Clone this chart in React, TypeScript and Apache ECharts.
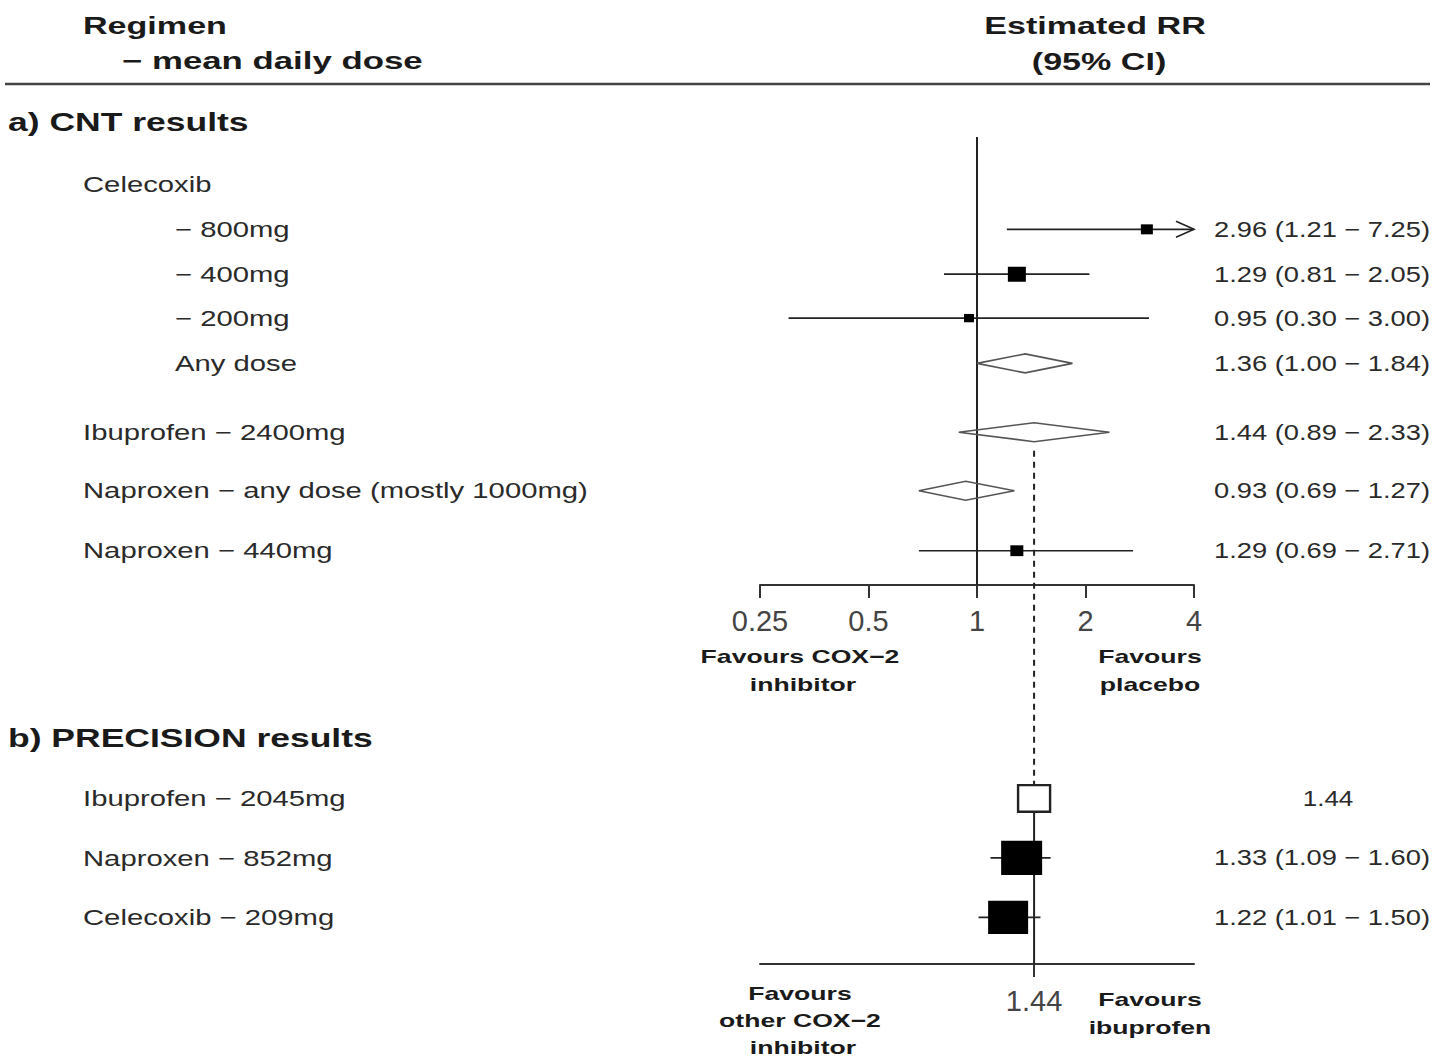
import React, { useEffect, useRef } from "react";
import * as echarts from "echarts";

// ---------- data ----------
const cntHeader = "Celecoxib";
const cntLabels = [
  "− 800mg",
  "− 400mg",
  "− 200mg",
  "Any dose",
  "Ibuprofen − 2400mg",
  "Naproxen − any dose (mostly 1000mg)",
  "Naproxen − 440mg",
];
const cntIndent = [2, 2, 2, 2, 1, 1, 1];
const cntEst = [2.96, 1.29, 0.95, 1.36, 1.44, 0.93, 1.29];
const cntLow = [1.21, 0.81, 0.3, 1.0, 0.89, 0.69, 0.69];
const cntHigh = [7.25, 2.05, 3.0, 1.84, 2.33, 1.27, 2.71];
const cntPooled = [false, false, false, true, true, true, false];
const cntWeight = [12, 18, 10, 0, 0, 0, 13];

const precLabels = ["Ibuprofen − 2045mg", "Naproxen − 852mg", "Celecoxib − 209mg"];
const precEst = [1.44, 1.33, 1.22];
const precLow = [null, 1.09, 1.01];
const precHigh = [null, 1.6, 1.5];
const precIsReference = [true, false, false];
const precWeight = [32, 41, 40];

const referenceRR = 1.44;
const X_MIN = 0.25;
const X_MAX = 4;

// ---------- layout (row positions in row units) ----------
const CNT_HEADER_POS = 1.06;
const cntRowPos = [2.08, 3.09, 4.08, 5.1, 6.65, 7.97, 9.32];
const precRowPos = [14.9, 16.24, 17.58];
const TOP_AXIS_POS = 10.09;
const DASH_START_POS = 7.07;
const Y_MAX = 18.63;

const GRID_LEFT = 760;
const GRID_RIGHT = 250;
const GRID_TOP = 137;
const GRID_HEIGHT = 827;

const FONT = "'Liberation Sans', Arial, Helvetica, sans-serif";
const TXT = "#2a2a2a";
const BOLD_SX = 1.42;
const LABEL_SX = 1.33;
const VALUE_SX = 1.24;

const fmt = (v: number) => v.toFixed(2);

export default function App() {
  const ref = useRef<HTMLDivElement>(null);

  useEffect(() => {
    if (!ref.current) return;
    const chart = echarts.init(ref.current, undefined, { renderer: "svg" });

    const forestData: any[] = [];
    cntEst.forEach((e, i) => {
      forestData.push([e, cntLow[i], cntHigh[i], cntRowPos[i], cntWeight[i], cntPooled[i] ? 1 : 0]);
    });
    precEst.forEach((e, i) => {
      forestData.push([
        e,
        precLow[i] ?? e,
        precHigh[i] ?? e,
        precRowPos[i],
        precWeight[i],
        precIsReference[i] ? 2 : 0,
      ]);
    });

    const axisCommon = {
      type: "log" as const,
      logBase: 2,
      min: X_MIN,
      max: X_MAX,
      gridIndex: 0,
      position: "bottom" as const,
      splitLine: { show: false },
      axisLine: { show: true, onZero: false, lineStyle: { color: "#333", width: 2 } },
      axisTick: { show: true, length: 13, lineStyle: { color: "#333", width: 2 } },
    };

    const topOffset = -(GRID_HEIGHT * (Y_MAX - TOP_AXIS_POS)) / Y_MAX;

    chart.setOption({
      animation: false,
      backgroundColor: "#fff",
      grid: { left: GRID_LEFT, right: GRID_RIGHT, top: GRID_TOP, height: GRID_HEIGHT, containLabel: false },
      xAxis: [
        {
          ...axisCommon,
          axisTick: { ...axisCommon.axisTick, customValues: [referenceRR] },
          axisLabel: {
            customValues: [referenceRR],
            formatter: (v: any) => String(+Number(v).toFixed(2)),
            fontSize: 29,
            color: "#444",
            margin: 22,
            fontFamily: FONT,
          },
        },
        {
          ...axisCommon,
          offset: topOffset,
          axisLabel: {
            formatter: (v: any) => String(+Number(v).toFixed(2)),
            fontSize: 29,
            color: "#444",
            margin: 22,
            fontFamily: FONT,
          },
        },
      ],
      yAxis: { type: "value", inverse: true, min: 0, max: Y_MAX, show: false, gridIndex: 0 },
      series: [
        {
          type: "line",
          data: [
            [1, 0],
            [1, TOP_AXIS_POS],
          ],
          symbol: "none",
          lineStyle: { color: "#222", width: 2 },
          z: 1,
          silent: true,
        },
        {
          type: "line",
          data: [
            [referenceRR, DASH_START_POS],
            [referenceRR, precRowPos[0]],
          ],
          symbol: "none",
          lineStyle: { color: "#222", width: 2, type: [6, 5] },
          z: 1,
          silent: true,
        },
        {
          type: "line",
          data: [
            [referenceRR, precRowPos[0]],
            [referenceRR, Y_MAX],
          ],
          symbol: "none",
          lineStyle: { color: "#222", width: 2 },
          z: 1,
          silent: true,
        },
        {
          type: "custom",
          z: 5,
          clip: false,
          encode: { x: [0, 1, 2], y: 3 },
          data: forestData,
          renderItem: (params: any, api: any) => {
            const est = api.value(0);
            const lo = api.value(1);
            const hi = api.value(2);
            const row = api.value(3);
            const w = api.value(4);
            const kind = api.value(5);
            const c = api.coord([est, row]);
            const children: any[] = [];
            if (kind === 1) {
              const l = api.coord([lo, row]);
              const r = api.coord([hi, row]);
              const h = 9.5;
              children.push({
                type: "polygon",
                shape: {
                  points: [
                    [l[0], c[1]],
                    [c[0], c[1] - h],
                    [r[0], c[1]],
                    [c[0], c[1] + h],
                  ],
                },
                style: { fill: "none", stroke: "#555", lineWidth: 1.6 },
              });
            } else {
              if (kind !== 2) {
                const l = api.coord([Math.max(lo, X_MIN), row]);
                const r = api.coord([Math.min(hi, X_MAX), row]);
                children.push({
                  type: "line",
                  shape: { x1: l[0], y1: c[1], x2: r[0], y2: c[1] },
                  style: { stroke: "#222", lineWidth: 1.6 },
                });
                if (hi > X_MAX) {
                  children.push({
                    type: "polyline",
                    shape: {
                      points: [
                        [r[0] - 18, c[1] - 8],
                        [r[0], c[1]],
                        [r[0] - 18, c[1] + 8],
                      ],
                    },
                    style: { fill: "none", stroke: "#222", lineWidth: 1.6 },
                  });
                }
              }
              const bw = w;
              const bh = w / 1.2;
              children.push({
                type: "rect",
                shape: { x: c[0] - bw / 2, y: c[1] - bh / 2, width: bw, height: bh },
                style: kind === 2 ? { fill: "#fff", stroke: "#222", lineWidth: 2.4 } : { fill: "#000" },
              });
            }
            return { type: "group", children };
          },
        },
      ],
    });

    const rowY = (pos: number) =>
      (chart.convertToPixel({ xAxisIndex: 0, yAxisIndex: 0 } as any, [1, pos]) as number[])[1];

    const text = (
      str: string,
      x: number,
      y: number,
      opts: { size?: number; bold?: boolean; align?: string; sx?: number; color?: string } = {}
    ) => ({
      type: "text",
      x,
      y,
      scaleX: opts.sx ?? 1,
      z: 10,
      style: {
        text: str,
        fontSize: opts.size ?? 22,
        fontWeight: opts.bold ? "bold" : "normal",
        fontFamily: FONT,
        fill: opts.color ?? TXT,
        align: opts.align ?? "left",
        textAlign: opts.align ?? "left",
        verticalAlign: "middle",
        textVerticalAlign: "middle",
      },
    });

    const g: any[] = [];
    // headers
    g.push(text("Regimen", 83, 25, { size: 24, bold: true, sx: BOLD_SX, color: "#1a1a1a" }));
    g.push(text("− mean daily dose", 122, 61, { size: 24, bold: true, sx: 1.45, color: "#1a1a1a" }));
    g.push(text("Estimated RR", 1095, 25, { size: 24, bold: true, sx: BOLD_SX, align: "center", color: "#1a1a1a" }));
    g.push(text("(95% CI)", 1099, 61, { size: 24, bold: true, sx: BOLD_SX, align: "center", color: "#1a1a1a" }));
    g.push({
      type: "line",
      shape: { x1: 5, y1: 84, x2: 1430, y2: 84 },
      style: { stroke: "#444", lineWidth: 2.5 },
    });
    g.push(text("a) CNT results", 8, 122, { size: 25, bold: true, sx: BOLD_SX, color: "#1a1a1a" }));
    g.push(text("b) PRECISION results", 8, 738, { size: 25, bold: true, sx: BOLD_SX, color: "#1a1a1a" }));

    // CNT rows
    g.push(text(cntHeader, 83, rowY(CNT_HEADER_POS), { sx: LABEL_SX }));
    cntLabels.forEach((lab, i) => {
      const y = rowY(cntRowPos[i]);
      g.push(text(lab, cntIndent[i] === 2 ? 175 : 83, y, { sx: LABEL_SX }));
      g.push(
        text(`${fmt(cntEst[i])} (${fmt(cntLow[i])} − ${fmt(cntHigh[i])})`, 1430, y, {
          align: "right",
          sx: VALUE_SX,
        })
      );
    });

    // PRECISION rows
    precLabels.forEach((lab, i) => {
      const y = rowY(precRowPos[i]);
      g.push(text(lab, 83, y, { sx: LABEL_SX }));
      const lo = precLow[i];
      const hi = precHigh[i];
      if (lo == null || hi == null) {
        g.push(text(fmt(precEst[i]), 1328, y, { align: "center", sx: 1.18 }));
      } else {
        g.push(
          text(`${fmt(precEst[i])} (${fmt(lo)} − ${fmt(hi)})`, 1430, y, { align: "right", sx: VALUE_SX })
        );
      }
    });

    // axis annotations
    const fav = { size: 19, bold: true, sx: 1.4, align: "center", color: "#1a1a1a" };
    g.push(text("Favours COX−2", 800, 656, fav));
    g.push(text("inhibitor", 803, 684, fav));
    g.push(text("Favours", 1150, 656, fav));
    g.push(text("placebo", 1150, 684, fav));
    g.push(text("Favours", 800, 993, fav));
    g.push(text("other COX−2", 800, 1020, fav));
    g.push(text("inhibitor", 803, 1047, fav));
    g.push(text("Favours", 1150, 999, fav));
    g.push(text("ibuprofen", 1150, 1027, fav));

    chart.setOption({ graphic: g });

    return () => chart.dispose();
  }, []);

  return (
    <div
      ref={ref}
      style={{ position: "absolute", left: 0, top: 0, width: 1444, height: 1060, background: "#fff" }}
    />
  );
}
